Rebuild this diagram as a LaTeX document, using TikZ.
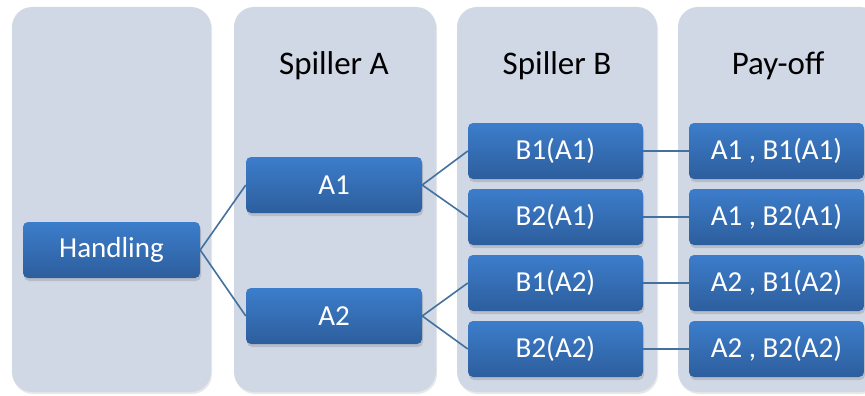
\documentclass[tikz,border=0pt]{standalone}
\usepackage{fontspec}
\setmainfont{Carlito}
\usetikzlibrary{shadows}
\definecolor{lanebg}{HTML}{D0D7E5}
\definecolor{boxtop}{HTML}{3C7DCB}
\definecolor{boxbot}{HTML}{2D5E9D}
\definecolor{linkcol}{HTML}{41719C}
\begin{document}
\begin{tikzpicture}[x=1pt,y=-1pt,
    lane/.style={fill=lanebg,rounded corners=20pt,drop shadow={opacity=0.18,shadow xshift=1pt,shadow yshift=-2pt}},
    move/.style={rounded corners=5pt,top color=boxtop,bottom color=boxbot,text=white,
      font=\fontsize{29}{32}\selectfont,minimum width=176pt,minimum height=56pt,inner sep=0pt,
      drop shadow={opacity=0.3,shadow xshift=1pt,shadow yshift=-3pt}},
    head/.style={font=\fontsize{33}{36}\selectfont},
    link/.style={linkcol,line width=1.6pt}]
    \useasboundingbox(0,0)rectangle(865,396);
    \clip(0,0)rectangle(865,396);
    % lanes
    \fill[lane](12,7)rectangle(211,392);
    \fill[lane](234,7)rectangle(436,392);
    \fill[lane](457,7)rectangle(657,392);
    \fill[lane](678,7)rectangle(880,392);
    \node[head](hA)at(334,66){Spiller A};
    \node[head](hB)at(557,66){Spiller B};
    \node[head](hP)at(778,66){Pay-off};
    % moves
    \node[move,minimum width=177pt](hand)at(111.5,250){Handling};
    \node[move](a1)at(334,185){A1};
    \node[move](a2)at(334,316){A2};
    \foreach \a/\b/\y in {1/1/151,1/2/217,2/1/283,2/2/349}{
        \node[move,minimum width=175pt](b\b a\a)at(555.5,\y){B\b(A\a)};
        \node[move,minimum width=175pt](p\b a\a)at(776.5,\y){A\a\ , B\b(A\a)};
        \draw[link](b\b a\a.east)--(p\b a\a.west);
        \draw[link](a\a.east)--(b\b a\a.west);
    }
    \draw[link](hand.east)--(a1.west);
    \draw[link](hand.east)--(a2.west);
\end{tikzpicture}
\end{document}
